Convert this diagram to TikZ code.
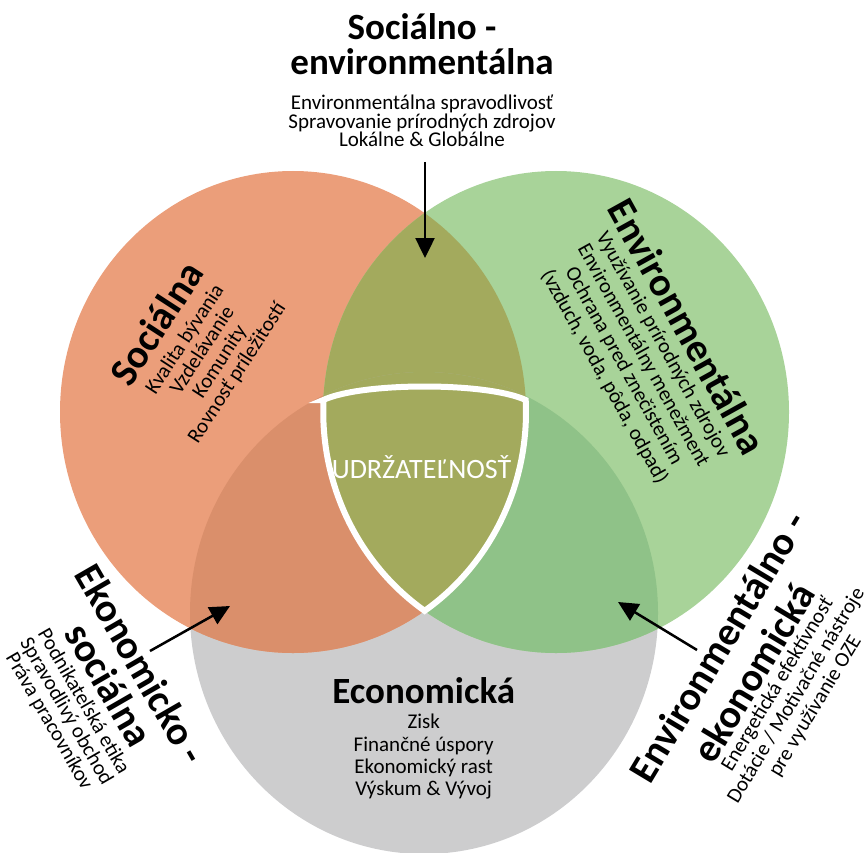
\documentclass[tikz,border=0pt]{standalone}
\usepackage{fontspec}
\setmainfont{Carlito}
\usetikzlibrary{arrows.meta}

\definecolor{socialL}{HTML}{EB9E7A}
\definecolor{socialD}{HTML}{DA8F6B}
\definecolor{olive}{HTML}{A3AA5D}
\definecolor{envL}{HTML}{A8D399}
\definecolor{envD}{HTML}{8FC288}
\definecolor{econ}{HTML}{CDCDCE}

\begin{document}
\begin{tikzpicture}[x=1pt,y=-1pt,
  heading/.style={font=\fontsize{40}{40}\selectfont\bfseries, inner sep=0pt, anchor=base, transform shape},
  toptitle/.style={font=\fontsize{37}{37}\selectfont\bfseries, inner sep=0pt, anchor=base},
  item/.style={font=\fontsize{21}{21}\selectfont, inner sep=0pt, anchor=base, transform shape},
  pointer/.style={line width=2.5pt, -{Triangle[length=20pt,width=19pt]}},
  social/.style={x radius=233, y radius=241},
  envir/.style={x radius=233, y radius=241},
  econo/.style={x radius=234, y radius=241},
]
\useasboundingbox (0,0) rectangle (864,853);

% the three pillars
\fill[econ] (424,613) ellipse[econo];
\fill[socialL] (293,412) ellipse[social];
\fill[envL] (556,412) ellipse[envir];

% pairwise overlaps
\begin{scope}
  \clip (293,412) ellipse[social];
  \fill[olive] (556,412) ellipse[envir];
  \fill[socialD] (424,613) ellipse[econo];
\end{scope}
\begin{scope}
  \clip (556,412) ellipse[envir];
  \fill[envD] (424,613) ellipse[econo];
\end{scope}
\begin{scope}
  \clip (293,412) ellipse[social];
  \clip (556,412) ellipse[envir];
  \fill[olive] (424,613) ellipse[econo];
\end{scope}

% central shield
\draw[white, line width=6pt, fill=olive]
  (323.3,400) .. controls (362,382) and (487,382) .. (525.7,400)
  arc[start angle=-2.85, end angle=55.6, x radius=233, y radius=241]
  arc[start angle=124.4, end angle=182.85, x radius=233, y radius=241]
  -- cycle;
\node[font=\fontsize{28}{28}\selectfont, text=white, inner sep=0pt, anchor=base]
  (core) at (421.5,478) {UDRŽATEĽNOSŤ};

% social-environmental overlap (top)
\node[toptitle] (seA) at (422,40) {Sociálno -};
\node[toptitle] (seB) at (422,75) {environmentálna};
\node[item] (seC) at (422,110) {Environmentálna spravodlivosť};
\node[item] (seD) at (422,128.5) {Spravovanie prírodných zdrojov};
\node[item] (seE) at (422,147) {Lokálne \& Globálne};

% social pillar
\begin{scope}[shift={(168,330.5)}, rotate=57]
  \node[heading] (soA) at (0,0) {Sociálna};
  \node[item] (soB) at (2,25) {Kvalita bývania};
  \node[item] (soC) at (2,45.7) {Vzdelávanie};
  \node[item] (soD) at (2,66.4) {Komunity};
  \node[item] (soE) at (2,87.1) {Rovnosť príležitostí};
\end{scope}

% environmental pillar
\begin{scope}[shift={(675.2,333.1)}, rotate=-61]
  \node[heading] (enA) at (0,0) {Environmentálna};
  \node[item] (enB) at (4,22.3) {Využívanie prírodných zdrojov};
  \node[item] (enC) at (4,44.6) {Environmentálny menežment};
  \node[item] (enD) at (4,66.9) {Ochrana pred znečistením};
  \node[item] (enE) at (4,89.2) {(vzduch, voda, pôda, odpad)};
\end{scope}

% economic-social overlap
\begin{scope}[shift={(129,671)}, rotate=-60]
  \node[heading] (esA) at (0,0) {Ekonomicko -};
  \node[heading] (esB) at (2,37.8) {sociálna};
  \node[item] (esC) at (3.5,60.5) {Podnikateľská etika};
  \node[item] (esD) at (3.5,80.4) {Spravodlivý obchod};
  \node[item] (esE) at (3.5,100.3) {Práva pracovníkov};
\end{scope}

% environmental-economic overlap
\begin{scope}[shift={(729.5,654)}, rotate=59]
  \node[heading] (eeA) at (0,0) {Environmentálno -};
  \node[heading] (eeB) at (-3.4,44) {ekonomická};
  \node[item] (eeC) at (-1.3,62.8) {Energetická efektívnosť};
  \node[item] (eeD) at (-1.4,84.5) {Dotácie / Motivačné nástroje};
  \node[item] (eeE) at (-0.5,106.2) {pre využívanie OZE};
\end{scope}

% economic pillar
\node[font=\fontsize{37}{37}\selectfont\bfseries, inner sep=0pt, anchor=base] (ecA) at (423.7,703) {Economická};
\node[item] (ecB) at (423.7,728) {Zisk};
\node[item] (ecC) at (423.7,751) {Finančné úspory};
\node[item] (ecD) at (423.7,773.6) {Ekonomický rast};
\node[item] (ecE) at (423.7,795.7) {Výskum \& Vývoj};

% pointers into the overlaps
\coordinate (topTail) at (425,162);
\coordinate (topTip) at (425,258);
\coordinate (leftTail) at (150,651);
\coordinate (leftTip) at (230,606);
\coordinate (rightTail) at (697,650);
\coordinate (rightTip) at (618,602);
\draw[pointer] (topTail) -- (topTip);
\draw[pointer] (leftTail) -- (leftTip);
\draw[pointer] (rightTail) -- (rightTip);
\end{tikzpicture}
\end{document}
